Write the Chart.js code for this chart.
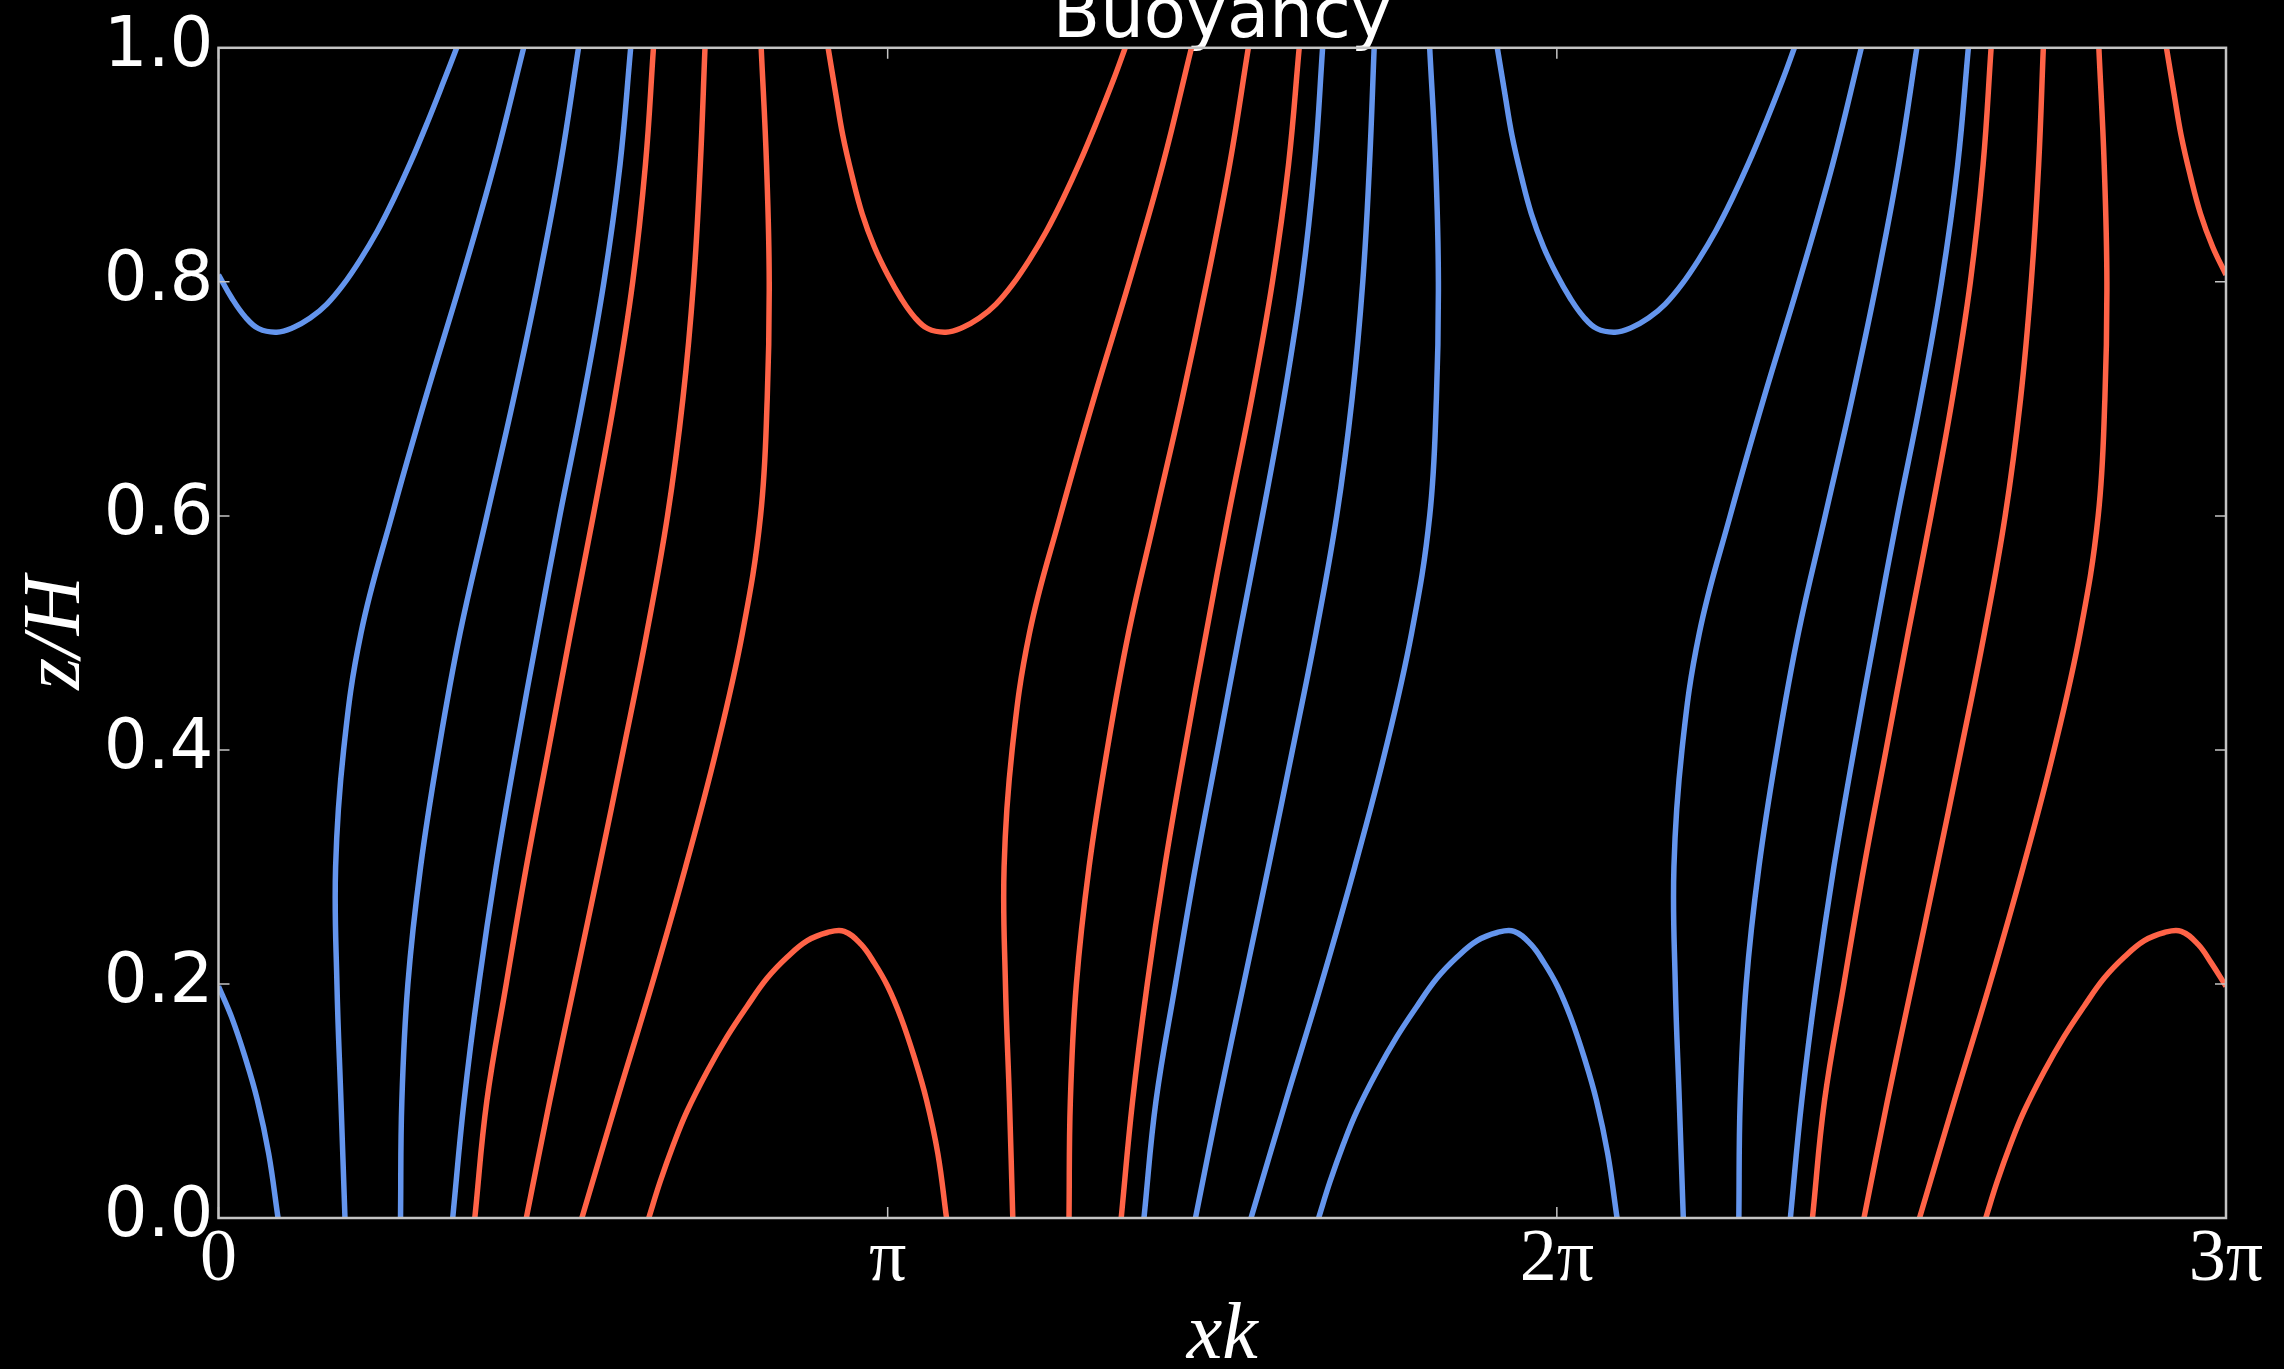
<!DOCTYPE html>
<html>
<head>
<meta charset="utf-8">
<script src="https://cdn.jsdelivr.net/npm/chart.js@4.4.1/dist/chart.umd.min.js"></script>
<style>
  html, body { margin: 0; padding: 0; background: #000; }
  #wrap { width: 2284px; height: 1369px; position: relative; }
</style>
</head>
<body>
<div id="wrap"><canvas id="buoyancyChart"></canvas></div>
<script>
// x in units of pi (xk / pi), y = z/H

// heights at which the slanted contours were read
const zLevels = [0.0, 0.1, 0.2, 0.3, 0.4, 0.5, 0.6, 0.7, 0.8, 0.9, 1.0];

// slanted contours: x position at each z level
const blueA1 = [0.189, 0.183, 0.177, 0.175, 0.187, 0.213, 0.259, 0.309, 0.362, 0.412, 0.456];
const blueA2 = [0.272, 0.274, 0.283, 0.302, 0.329, 0.361, 0.401, 0.441, 0.478, 0.511, 0.538];
const blueA3 = [0.350, 0.367, 0.389, 0.415, 0.445, 0.477, 0.510, 0.545, 0.576, 0.600, 0.616];
const redA1  = [0.383, 0.401, 0.430, 0.460, 0.493, 0.526, 0.560, 0.592, 0.619, 0.638, 0.650];
const redA2  = [0.460, 0.495, 0.532, 0.569, 0.605, 0.640, 0.671, 0.694, 0.710, 0.720, 0.727];
const redA3  = [0.543, 0.595, 0.648, 0.698, 0.744, 0.783, 0.810, 0.820, 0.823, 0.819, 0.811];

const redB1  = [1.187, 1.182, 1.176, 1.174, 1.186, 1.212, 1.258, 1.308, 1.361, 1.411, 1.454];
const redB2  = [1.271, 1.273, 1.282, 1.301, 1.328, 1.360, 1.400, 1.440, 1.477, 1.511, 1.539];
const redB3  = [1.349, 1.366, 1.388, 1.414, 1.444, 1.476, 1.509, 1.544, 1.575, 1.599, 1.615];
const blueB1 = [1.383, 1.401, 1.430, 1.460, 1.493, 1.526, 1.560, 1.592, 1.619, 1.638, 1.650];
const blueB2 = [1.460, 1.495, 1.532, 1.569, 1.605, 1.640, 1.671, 1.694, 1.710, 1.720, 1.727];
const blueB3 = [1.543, 1.595, 1.648, 1.698, 1.744, 1.783, 1.810, 1.820, 1.823, 1.819, 1.810];

const blueC1 = [2.189, 2.183, 2.177, 2.175, 2.187, 2.213, 2.259, 2.309, 2.362, 2.412, 2.455];
const blueC2 = [2.272, 2.274, 2.283, 2.302, 2.329, 2.361, 2.401, 2.441, 2.478, 2.511, 2.538];
const blueC3 = [2.349, 2.366, 2.388, 2.414, 2.444, 2.476, 2.509, 2.544, 2.575, 2.599, 2.615];
const redC1  = [2.382, 2.400, 2.429, 2.459, 2.492, 2.525, 2.559, 2.591, 2.618, 2.637, 2.649];
const redC2  = [2.459, 2.494, 2.531, 2.568, 2.604, 2.639, 2.670, 2.693, 2.709, 2.720, 2.727];
const redC3  = [2.542, 2.594, 2.647, 2.697, 2.743, 2.782, 2.809, 2.819, 2.822, 2.818, 2.810];

// contours that turn back at the top or bottom edge: [x, z] pairs
const blueTopArc0 = [[0.000,0.806],[0.020,0.786],[0.040,0.770],[0.060,0.760],[0.087,0.757],[0.112,0.761],[0.137,0.769],[0.162,0.781],[0.187,0.798],[0.212,0.819],[0.237,0.843],[0.262,0.871],[0.287,0.902],[0.312,0.936],[0.337,0.972],[0.356,1.000]];
const blueBottomArc0 = [[0.000,0.198],[0.020,0.171],[0.040,0.137],[0.058,0.101],[0.075,0.055],[0.089,0.000]];
const redBottomArc1 = [[0.643,0.000],[0.660,0.031],[0.680,0.063],[0.700,0.091],[0.730,0.125],[0.760,0.155],[0.790,0.181],[0.820,0.205],[0.850,0.223],[0.880,0.237],[0.910,0.244],[0.935,0.245],[0.960,0.234],[0.980,0.218],[1.000,0.198],[1.020,0.171],[1.040,0.137],[1.058,0.101],[1.075,0.055],[1.088,0.000]];
const redTopArc1 = [[0.911,1.000],[0.922,0.962],[0.933,0.925],[0.947,0.890],[0.962,0.858],[0.980,0.830],[1.000,0.806],[1.020,0.786],[1.040,0.770],[1.060,0.760],[1.087,0.757],[1.112,0.761],[1.137,0.769],[1.162,0.781],[1.187,0.798],[1.212,0.819],[1.237,0.843],[1.262,0.871],[1.287,0.902],[1.312,0.936],[1.337,0.972],[1.355,1.000]];
const blueBottomArc2 = [[1.644,0.000],[1.661,0.031],[1.681,0.063],[1.701,0.091],[1.731,0.125],[1.761,0.155],[1.791,0.181],[1.821,0.205],[1.851,0.223],[1.881,0.237],[1.911,0.244],[1.936,0.245],[1.961,0.234],[1.981,0.218],[2.001,0.198],[2.021,0.171],[2.041,0.137],[2.059,0.101],[2.076,0.055],[2.090,0.000]];
const blueTopArc2 = [[1.911,1.000],[1.922,0.962],[1.933,0.925],[1.947,0.890],[1.962,0.858],[1.980,0.830],[2.000,0.806],[2.020,0.786],[2.040,0.770],[2.060,0.760],[2.087,0.757],[2.112,0.761],[2.137,0.769],[2.162,0.781],[2.187,0.798],[2.212,0.819],[2.237,0.843],[2.262,0.871],[2.287,0.902],[2.312,0.936],[2.337,0.972],[2.355,1.000]];
const redBottomArc3 = [[2.641,0.000],[2.658,0.031],[2.678,0.063],[2.698,0.091],[2.728,0.125],[2.758,0.155],[2.788,0.181],[2.818,0.205],[2.848,0.223],[2.878,0.237],[2.908,0.244],[2.933,0.245],[2.958,0.234],[2.978,0.218],[3.000,0.198]];
const redTopArc3 = [[2.911,1.000],[2.922,0.962],[2.933,0.925],[2.947,0.890],[2.962,0.858],[2.980,0.830],[3.000,0.806]];

const blueSlanted = [blueA1, blueA2, blueA3, blueB1, blueB2, blueB3, blueC1, blueC2, blueC3];
const redSlanted = [redA1, redA2, redA3, redB1, redB2, redB3, redC1, redC2, redC3];
const blueArcs = [blueTopArc0, blueBottomArc0, blueBottomArc2, blueTopArc2];
const redArcs = [redBottomArc1, redTopArc1, redBottomArc3, redTopArc3];

const xTickLabels = {0: '0', 1: 'π', 2: '2π', 3: '3π'};

const blue = '#6495ed';
const red = '#ff6347';
const frameColor = '#c4c4c4';

function lineDataset(points, color) {
    return {
        data: points,
        showLine: true,
        borderColor: color,
        borderWidth: 5.5,
        pointRadius: 0,
        tension: 0.4,
        fill: false
    };
}
const fromLevels = xs => xs.map((x, i) => ({x: x, y: zLevels[i]}));
const fromPairs = ps => ps.map(p => ({x: p[0], y: p[1]}));

const datasets = []
    .concat(blueSlanted.map(l => lineDataset(fromLevels(l), blue)))
    .concat(blueArcs.map(l => lineDataset(fromPairs(l), blue)))
    .concat(redSlanted.map(l => lineDataset(fromLevels(l), red)))
    .concat(redArcs.map(l => lineDataset(fromPairs(l), red)));

// frame round the plot with inward ticks on all four sides
const frameTicks = {
    id: 'frameTicks',
    afterDatasetsDraw(chart) {
        const {ctx, chartArea: a, scales} = chart;
        const len = 11;
        ctx.save();
        ctx.strokeStyle = frameColor;
        ctx.lineWidth = 1.5;
        ctx.beginPath();
        scales.x.ticks.forEach(t => {
            const px = scales.x.getPixelForValue(t.value);
            ctx.moveTo(px, a.bottom); ctx.lineTo(px, a.bottom - len);
            ctx.moveTo(px, a.top); ctx.lineTo(px, a.top + len);
        });
        scales.y.ticks.forEach(t => {
            const py = scales.y.getPixelForValue(t.value);
            ctx.moveTo(a.left, py); ctx.lineTo(a.left + len, py);
            ctx.moveTo(a.right, py); ctx.lineTo(a.right - len, py);
        });
        ctx.stroke();
        ctx.lineWidth = 2.5;
        ctx.strokeRect(a.left, a.top, a.right - a.left, a.bottom - a.top);
        ctx.restore();
    }
};

new Chart(document.getElementById('buoyancyChart'), {
    type: 'scatter',
    data: {datasets: datasets},
    options: {
        responsive: true,
        maintainAspectRatio: false,
        animation: false,
        events: [],
        layout: {padding: {top: 0, right: 58, bottom: 0, left: 0}},
        plugins: {
            legend: {display: false},
            tooltip: {enabled: false},
            title: {
                display: true,
                fullSize: false,
                text: 'Buoyancy',
                color: '#ffffff',
                font: {family: '"DejaVu Sans"', size: 69, weight: 'normal'},
                padding: {top: -22, bottom: -13}
            }
        },
        scales: {
            x: {
                type: 'linear',
                min: 0,
                max: 3,
                afterFit(scale) { scale.height = 151; },
                grid: {display: false},
                border: {display: false},
                ticks: {
                    stepSize: 1,
                    color: '#ffffff',
                    padding: -10,
                    maxRotation: 0,
                    font: {family: '"Liberation Serif"', size: 74},
                    callback: v => xTickLabels[v]
                },
                title: {
                    display: true,
                    text: 'xk',
                    color: '#ffffff',
                    font: {family: '"Liberation Serif"', size: 80, style: 'italic'},
                    padding: {top: 0, bottom: -16}
                }
            },
            y: {
                min: 0,
                max: 1,
                afterFit(scale) { scale.width = 218.5; },
                grid: {display: false},
                border: {display: false},
                ticks: {
                    stepSize: 0.2,
                    color: '#ffffff',
                    padding: -3,
                    font: {family: '"DejaVu Sans"', size: 69},
                    callback: v => v.toFixed(1)
                },
                title: {
                    display: true,
                    text: 'z/H',
                    color: '#ffffff',
                    font: {family: '"Liberation Serif"', size: 82, style: 'italic'},
                    padding: {top: 8, bottom: 0}
                }
            }
        }
    },
    plugins: [frameTicks]
});
</script>
</body>
</html>
